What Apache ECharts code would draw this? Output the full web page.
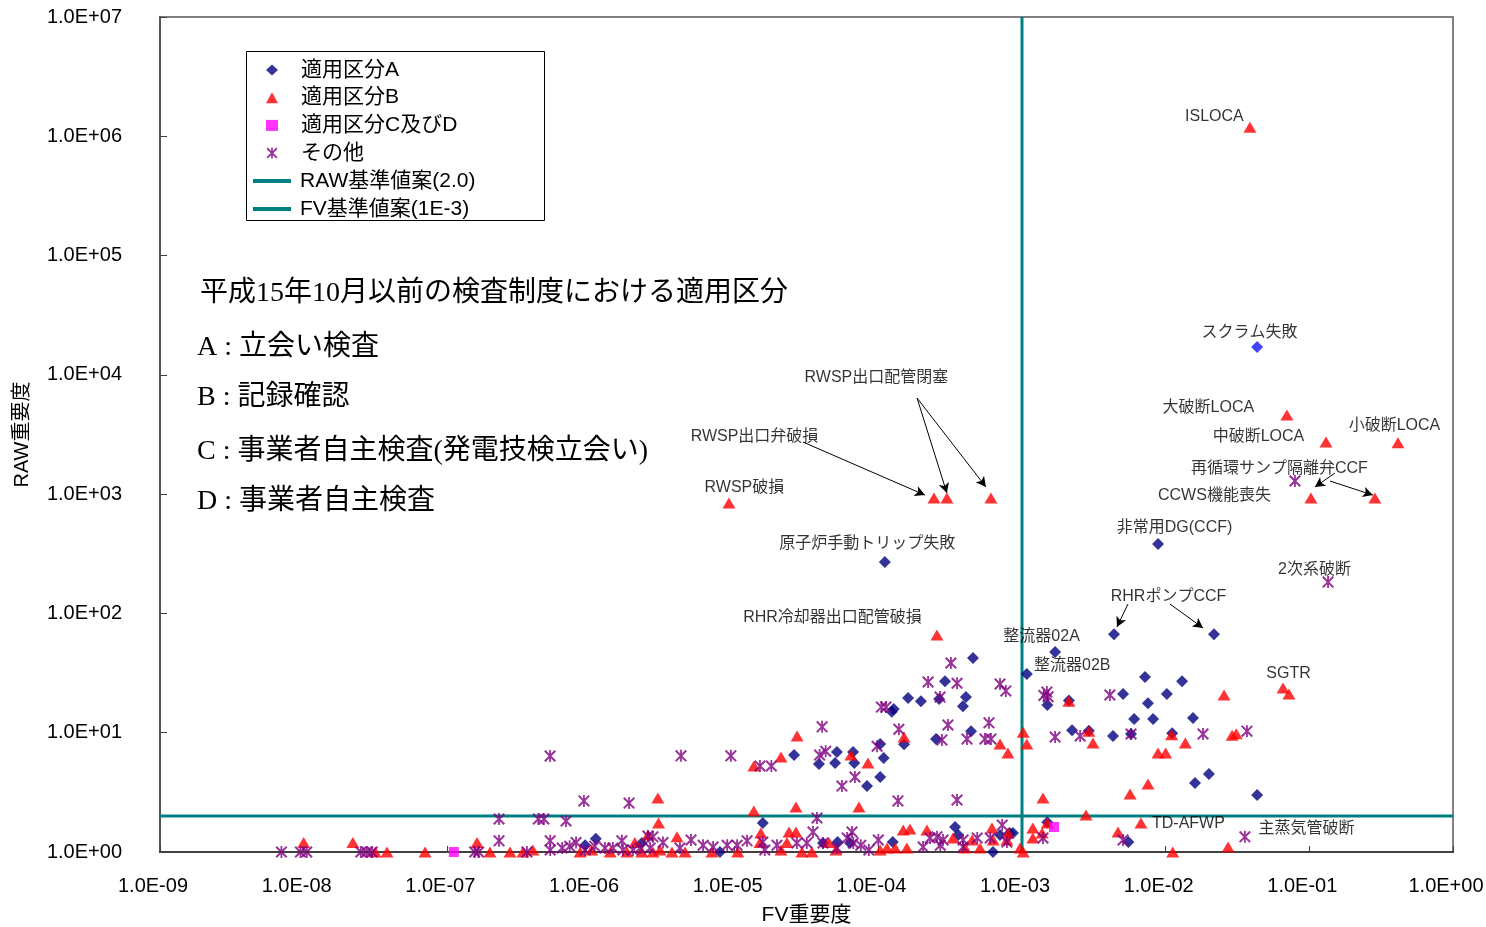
<!DOCTYPE html>
<html>
<head>
<meta charset="utf-8">
<script src="https://cdn.jsdelivr.net/npm/echarts@6.0.0/dist/echarts.min.js"></script>
<style>
html, body { margin: 0; padding: 0; background: #fff; }
#chart { width: 1486px; height: 927px; }
</style>
</head>
<body>
<div id="chart"></div>
<script>
// ---- axis ranges (log scales) ----
const fvRange = [1e-9, 1];
const rawRange = [1, 1e7];

// ---- criteria ----
const rawCriterion = 2.0;
const fvCriterion = 1e-3;

// ---- series names ----
const nameA = '適用区分A';
const nameB = '適用区分B';
const nameCD = '適用区分C及びD';
const nameOther = 'その他';
const nameRawLine = 'RAW基準値案(2.0)';
const nameFvLine = 'FV基準値案(1E-3)';

// ---- [FV, RAW] ----
const pointsA = [
  [8.85e-3, 382], [1.11e-4, 270], [4.37e-3, 67], [2.17e-2, 67], [1.7e-3, 47.5],
  [1.08e-3, 31], [4.56e-4, 42.3], [2.91e-4, 27], [1.61e-4, 19.5], [1.98e-4, 18.4],
  [2.65e-4, 19.2], [4.07e-4, 19.9], [3.88e-4, 16.7], [1.28e-4, 15.8], [1.24e-4, 15.0],
  [4.42e-4, 10.3], [1.51e-4, 8.0], [2.52e-4, 8.85], [1.09e-4, 6.14], [1.03e-4, 8.04],
  [1.03e-4, 4.25], [8.34e-5, 3.57], [2.59e-5, 6.5], [3.86e-5, 5.47], [5.15e-5, 6.89],
  [5.0e-5, 5.57], [6.67e-5, 6.89], [6.8e-5, 5.57], [1.57e-5, 1.75], [7.18e-3, 29.3],
  [1.3e-2, 27], [1.5e-3, 17.1], [2.12e-3, 18.6], [5.05e-3, 21.1], [7.53e-3, 17.7],
  [1.02e-2, 21.1], [6.03e-3, 13], [8.17e-3, 13], [1.55e-2, 13.3], [2.23e-3, 10.5],
  [2.92e-3, 10.4], [4.3e-3, 9.38], [5.74e-3, 9.75], [1.11e-2, 9.9], [2.0e-2, 4.51],
  [1.6e-2, 3.79], [4.33e-2, 3.0], [1.5e-3, 1.78], [8.65e-4, 1.44], [5.5e-3, 1.21],
  [1.08e-6, 1.29], [9.1e-7, 1.14], [2.26e-6, 1.19], [7.9e-6, 1.0], [4.12e-5, 1.19],
  [5.2e-5, 1.21], [6.35e-5, 1.19], [1.26e-4, 1.21], [3.42e-4, 1.62], [3.6e-4, 1.39],
  [6.28e-4, 1.0], [7.03e-4, 1.39], [8.2e-4, 1.44]
];
const scramFailure = [4.33e-2, 1.71e4];

const pointsB = [
  [3.86e-2, 1.19e6], [6.98e-2, 4600], [0.1306, 2733], [0.414, 2700], [0.1026, 927],
  [0.286, 927], [9.12e-6, 842], [2.44e-4, 927], [3.0e-4, 927], [6.08e-4, 927],
  [2.56e-4, 65.9], [6.56e-2, 23.7], [7.21e-2, 21.1], [2.55e-2, 20.7], [2.12e-3, 18.4],
  [1.51e-4, 9.2], [7.03e-4, 8.04], [7.98e-4, 6.76], [1.02e-3, 10.1], [1.08e-3, 8.04],
  [2.72e-5, 9.38], [2.1e-5, 6.26], [1.36e-5, 5.26], [6.45e-5, 6.5], [8.47e-5, 5.57],
  [2.92e-3, 10.3], [3.12e-3, 8.2], [1.37e-2, 8.2], [8.85e-3, 6.76], [1.0e-2, 6.76],
  [1.1e-2, 9.6], [2.9e-2, 9.5], [3.1e-2, 9.8], [7.53e-3, 3.72], [5.65e-3, 3.06],
  [1.4e-3, 2.84], [2.79e-3, 2.04], [6.73e-3, 1.75], [2.92e-6, 2.84], [2.95e-6, 1.75],
  [1.36e-5, 2.21], [2.67e-5, 2.38], [7.33e-5, 2.38],
  [1.0e-8, 1.2], [2.2e-8, 1.2], [3.15e-8, 1.0], [3.8e-8, 1.0], [7.0e-8, 1.0],
  [1.61e-7, 1.2], [1.98e-7, 1.0], [2.73e-7, 1.0], [3.36e-7, 1.0], [3.94e-7, 1.04],
  [8.4e-7, 1.0], [1.01e-6, 1.04], [1.36e-6, 1.0], [1.78e-6, 1.0], [2.02e-6, 1.2],
  [2.49e-6, 1.39], [2.26e-6, 1.0], [2.7e-6, 1.0], [3.02e-6, 1.04], [3.66e-6, 1.0],
  [3.97e-6, 1.34], [4.52e-6, 1.0], [6.95e-6, 1.0], [1.05e-5, 1.0], [1.5e-5, 1.2],
  [1.52e-5, 1.44], [2.1e-5, 1.04], [2.31e-5, 1.2], [2.39e-5, 1.47], [2.67e-5, 1.47],
  [2.94e-5, 1.0], [3.45e-5, 1.0], [4.53e-5, 1.2], [5.07e-5, 1.04], [1.03e-4, 1.04],
  [1.15e-4, 1.08], [1.31e-4, 1.08], [1.49e-4, 1.53], [1.58e-4, 1.08], [1.66e-4, 1.56],
  [2.18e-4, 1.53], [3.31e-4, 1.31], [4.02e-4, 1.08], [4.49e-4, 1.26], [5.1e-4, 1.08],
  [6.18e-4, 1.59], [6.3e-4, 1.26], [7.85e-4, 1.26], [8.0e-4, 1.44], [9.7e-4, 1.08],
  [1.02e-3, 1.0], [1.19e-3, 1.59], [1.19e-3, 1.31], [1.38e-3, 1.44], [1.5e-3, 1.75],
  [4.66e-3, 1.47], [1.12e-2, 1.0], [2.72e-2, 1.1]
];

const pointsCD = [
  [1.11e-7, 1.0], [1.67e-3, 1.62]
];

const pointsOther = [
  [7.94e-2, 1288], [0.135, 183], [3.56e-2, 1.34],
  [3.2e-4, 38.4], [2.22e-4, 26.6], [3.53e-4, 26], [7.03e-4, 25.6], [7.72e-4, 22.4],
  [2.69e-4, 19.9], [1.05e-4, 16.4], [1.13e-4, 16.4], [3.05e-4, 11.6], [5.89e-4, 12.1],
  [4.06e-5, 11.2], [1.39e-4, 10.7], [2.77e-4, 8.7], [4.14e-4, 8.85], [5.52e-4, 8.85],
  [6.08e-4, 8.85], [9.8e-5, 7.7], [1.5e-5, 5.26], [1.8e-5, 5.26], [3.9e-5, 6.5],
  [4.3e-5, 7.0], [6.87e-5, 4.25], [5.58e-5, 3.57], [1.37e-4, 2.68], [3.53e-4, 2.73],
  [3.74e-5, 1.93], [1.49e-3, 21.9], [1.42e-3, 20.5], [1.52e-3, 20.0], [4.09e-3, 20.7],
  [2.54e-3, 9.38], [1.7e-3, 9.2], [5.74e-3, 9.75], [1.82e-2, 9.75], [3.68e-2, 10.3],
  [5.19e-7, 6.38], [4.23e-6, 6.4], [9.4e-6, 6.4], [8.93e-7, 2.68], [1.84e-6, 2.57],
  [2.29e-7, 1.89], [4.3e-7, 1.89], [4.7e-7, 1.89], [6.7e-7, 1.82],
  [7.0e-9, 1.0], [9.5e-9, 1.0], [1.05e-8, 1.0], [2.5e-8, 1.0], [2.75e-8, 1.0],
  [3.0e-8, 1.0], [1.55e-7, 1.0], [1.65e-7, 1.0], [2.29e-7, 1.24], [5.2e-7, 1.24],
  [1.64e-6, 1.24], [4.97e-6, 1.26], [1.22e-5, 1.24], [2.49e-6, 1.36], [3.17e-6, 1.2],
  [7.87e-7, 1.2], [1.06e-6, 1.12], [7.1e-7, 1.12], [6.3e-7, 1.08], [3.58e-7, 1.0],
  [5.2e-7, 1.04], [9.1e-7, 1.04], [1.25e-6, 1.08], [1.42e-6, 1.08], [1.67e-6, 1.04],
  [1.96e-6, 1.04], [2.19e-6, 1.08], [2.58e-6, 1.08], [2.7e-6, 1.34], [4.16e-6, 1.08],
  [6.03e-6, 1.14], [7.08e-6, 1.1], [8.87e-6, 1.14], [1.04e-5, 1.14], [1.57e-5, 1.21],
  [1.62e-5, 1.04], [1.97e-5, 1.14], [2.71e-5, 1.19], [3.18e-5, 1.19], [3.51e-5, 1.47],
  [4.12e-5, 1.19], [5.16e-5, 1.08], [6.07e-5, 1.31], [6.56e-5, 1.47], [6.7e-5, 1.19],
  [7.55e-5, 1.14], [8.59e-5, 1.04], [1.0e-4, 1.26], [2.05e-4, 1.1], [2.29e-4, 1.31],
  [2.56e-4, 1.34], [2.82e-4, 1.26], [2.7e-4, 1.14], [3.89e-4, 1.26], [3.89e-4, 1.1],
  [4.88e-4, 1.31], [6.01e-4, 1.31], [7.28e-4, 1.68], [7.85e-4, 1.21], [1.4e-3, 1.31],
  [5.05e-3, 1.26]
];

// ---- named events: [label, FV, RAW] ----
const callouts = [
  ['ISLOCA', 3.86e-2, 1.19e6],
  ['スクラム失敗', 4.33e-2, 1.71e4],
  ['大破断LOCA', 6.98e-2, 4600],
  ['中破断LOCA', 0.1306, 2733],
  ['小破断LOCA', 0.414, 2700],
  ['再循環サンプ隔離弁CCF', 7.94e-2, 1288],
  ['CCWS機能喪失', 0.1026, 927],
  ['非常用DG(CCF)', 8.85e-3, 382],
  ['2次系破断', 0.135, 183],
  ['RHRポンプCCF', 4.37e-3, 67],
  ['SGTR', 6.56e-2, 23.7],
  ['TD-AFWP', 6.73e-3, 1.75],
  ['主蒸気管破断', 3.56e-2, 1.34],
  ['整流器02A', 1.7e-3, 47.5],
  ['整流器02B', 1.08e-3, 31],
  ['RHR冷却器出口配管破損', 2.56e-4, 65.9],
  ['原子炉手動トリップ失敗', 1.11e-4, 270],
  ['RWSP破損', 9.12e-6, 842],
  ['RWSP出口弁破損', 2.44e-4, 927],
  ['RWSP出口配管閉塞', 3.0e-4, 927]
];

// ---- leader arrows: [[FV, RAW] tail, [FV, RAW] head] ----
const leaders = [
  [[2.99e-5, 2733], [2.11e-4, 982]],
  [[1.86e-4, 6391], [3.0e-4, 1021]],
  [[1.86e-4, 6391], [5.61e-4, 1148]],
  [[0.1507, 1503], [0.1094, 1148]],
  [[0.1393, 1288], [0.277, 982]],
  [[5.47e-3, 120], [4.58e-3, 76.9]],
  [[1.07e-2, 120], [1.82e-2, 75.5]]
];

// ---- text block ----
const noteLines = [
  '平成15年10月以前の検査制度における適用区分',
  'A : 立会い検査',
  'B : 記録確認',
  'C : 事業者自主検査(発電技検立会い)',
  'D : 事業者自主検査'
];

// ---- presentation ----
const SANS = "'Liberation Sans', 'Noto Sans CJK JP', sans-serif";
const SERIF = "'Liberation Serif', 'Noto Sans CJK JP', serif";
const TEAL = '#008080';
const STAR = 'path://M1.2,0L10,8.8L8.8,10L0,1.2Z M8.8,0L10,1.2L1.2,10L0,8.8Z M4.25,0L5.75,0L5.75,10L4.25,10Z';

const calloutOffsets = {
  'ISLOCA': [-35, -10],
  'スクラム失敗': [-7, -14],
  '大破断LOCA': [-78, -7],
  '中破断LOCA': [-67, -5],
  '小破断LOCA': [-3, -17],
  '再循環サンプ隔離弁CCF': [-15, -12],
  'CCWS機能喪失': [-96, -2],
  '非常用DG(CCF)': [17, -16],
  '2次系破断': [-13, -12],
  'RHRポンプCCF': [55, -37],
  'SGTR': [6, -14],
  'TD-AFWP': [48, 1],
  '主蒸気管破断': [62, -8],
  '整流器02A': [-13, -15],
  '整流器02B': [46, -8],
  'RHR冷却器出口配管破損': [-104, -17],
  '原子炉手動トリップ失敗': [-17, -18],
  'RWSP破損': [16, -15],
  'RWSP出口弁破損': [-179, -61],
  'RWSP出口配管閉塞': [-70, -120]
};
const noteY = [294, 348, 398, 452, 502];
const noteX = [200, 197, 197, 197, 197];

function sci(v) {
  const e = Math.round(Math.log10(v));
  const s = e < 0 ? '-' : '+';
  return '1.0E' + s + String(Math.abs(e)).padStart(2, '0');
}

const legendText = { fontSize: 21, lineHeight: 22, fontFamily: SANS, color: '#000' };

const chart = echarts.init(document.getElementById('chart'), null, { renderer: 'canvas' });

const option = {
  animation: false,
  backgroundColor: '#fff',
  grid: {
    left: 160, right: 33, top: 17, bottom: 75,
    outerBoundsMode: 'none', containLabel: false,
    show: true, borderColor: '#808080', borderWidth: 2, backgroundColor: 'transparent'
  },
  xAxis: {
    type: 'log', logBase: 10, min: fvRange[0], max: fvRange[1], interval: 1,
    name: 'FV重要度', nameLocation: 'middle', nameGap: 53,
    nameTextStyle: { fontSize: 21, fontFamily: SANS, color: '#000' },
    axisLine: { onZero: false, lineStyle: { color: '#404040', width: 2 } },
    axisTick: { inside: true, length: 6, lineStyle: { color: '#404040' } },
    splitLine: { show: false },
    minorTick: { show: false },
    axisLabel: {
      formatter: sci, fontSize: 20, fontFamily: SANS, color: '#000', margin: 24,
      padding: [0, 14, 0, 0]
    }
  },
  yAxis: {
    type: 'log', logBase: 10, min: rawRange[0], max: rawRange[1], interval: 1,
    name: 'RAW重要度', nameLocation: 'middle', nameGap: 128, nameRotate: 90,
    nameTextStyle: { fontSize: 20, fontFamily: SANS, color: '#000' },
    axisLine: { onZero: false, lineStyle: { color: '#555', width: 2 } },
    axisTick: { inside: true, length: 7, lineStyle: { color: '#404040' } },
    splitLine: { show: false },
    axisLabel: {
      formatter: sci, fontSize: 20, fontFamily: SANS, color: '#000', margin: 38,
      padding: [6, 0, 0, 0]
    }
  },
  legend: [
    {
      data: [
        { name: nameA, icon: 'diamond' },
        { name: nameB, icon: 'triangle' },
        { name: nameCD, icon: 'rect' },
        { name: nameOther, icon: STAR }
      ],
      orient: 'vertical', left: 266, top: 59,
      itemWidth: 12, itemHeight: 11, itemGap: 5.7, padding: 0,
      textStyle: Object.assign({ padding: [0, 0, 0, 18] }, legendText),
      selectedMode: false
    },
    {
      data: [
        { name: nameRawLine, icon: 'rect' },
        { name: nameFvLine, icon: 'rect' }
      ],
      orient: 'vertical', left: 253, top: 170,
      itemWidth: 38, itemHeight: 4, itemGap: 6, padding: 0,
      itemStyle: { color: TEAL },
      textStyle: Object.assign({ padding: [0, 0, 0, 4] }, legendText),
      selectedMode: false
    }
  ],
  graphic: [
    {
      type: 'rect', z: 3, silent: true,
      shape: { x: 246.5, y: 51.5, width: 298, height: 169 },
      style: { fill: '#fff', stroke: '#000', lineWidth: 1 }
    }
  ].concat(noteLines.map((t, i) => ({
    type: 'text', x: noteX[i], y: noteY[i], z: 10,
    style: { text: t, font: '28px ' + SERIF, fill: '#000', verticalAlign: 'middle' }
  }))),
  series: [
    {
      name: nameRawLine, type: 'line', symbol: 'none', silent: true,
      data: [[fvRange[0], rawCriterion], [fvRange[1], rawCriterion]],
      lineStyle: { color: TEAL, width: 3 }, itemStyle: { color: TEAL }, z: 1
    },
    {
      name: nameFvLine, type: 'line', symbol: 'none', silent: true,
      data: [[fvCriterion, rawRange[0]], [fvCriterion, rawRange[1]]],
      lineStyle: { color: TEAL, width: 3 }, itemStyle: { color: TEAL }, z: 1
    },
    {
      name: nameA, type: 'scatter', symbol: 'diamond', symbolSize: 12, z: 2,
      itemStyle: { color: '#000080' },
      data: pointsA.concat([{ value: scramFailure, itemStyle: { color: '#1515ff' } }])
    },
    {
      name: nameB, type: 'scatter', symbol: 'triangle', symbolSize: [13, 11], z: 3,
      itemStyle: { color: '#ff0000' },
      data: pointsB
    },
    {
      name: nameCD, type: 'scatter', symbol: 'rect', symbolSize: 10, z: 4,
      itemStyle: { color: '#ff00ff' },
      data: pointsCD
    },
    {
      name: nameOther, type: 'scatter', symbol: STAR, symbolSize: 12, z: 5,
      itemStyle: { color: '#800080' },
      data: pointsOther
    },
    {
      name: 'callouts', type: 'scatter', symbolSize: 1, z: 6, silent: true,
      itemStyle: { color: 'rgba(0,0,0,0)' },
      label: {
        show: true, formatter: '{b}', fontSize: 16, fontFamily: SANS, color: '#000',
        align: 'center', verticalAlign: 'middle'
      },
      data: callouts.map(c => ({
        name: c[0], value: [c[1], c[2]],
        label: { position: calloutOffsets[c[0]] }
      })),
      markLine: {
        silent: true, animation: false,
        symbol: ['none', 'arrow'], symbolSize: [8, 10],
        lineStyle: { color: '#000', width: 1, type: 'solid' },
        label: { show: false },
        emphasis: { disabled: true },
        data: leaders.map(l => [{ coord: l[0] }, { coord: l[1] }])
      }
    }
  ]
};

chart.setOption(option);
</script>
</body>
</html>
